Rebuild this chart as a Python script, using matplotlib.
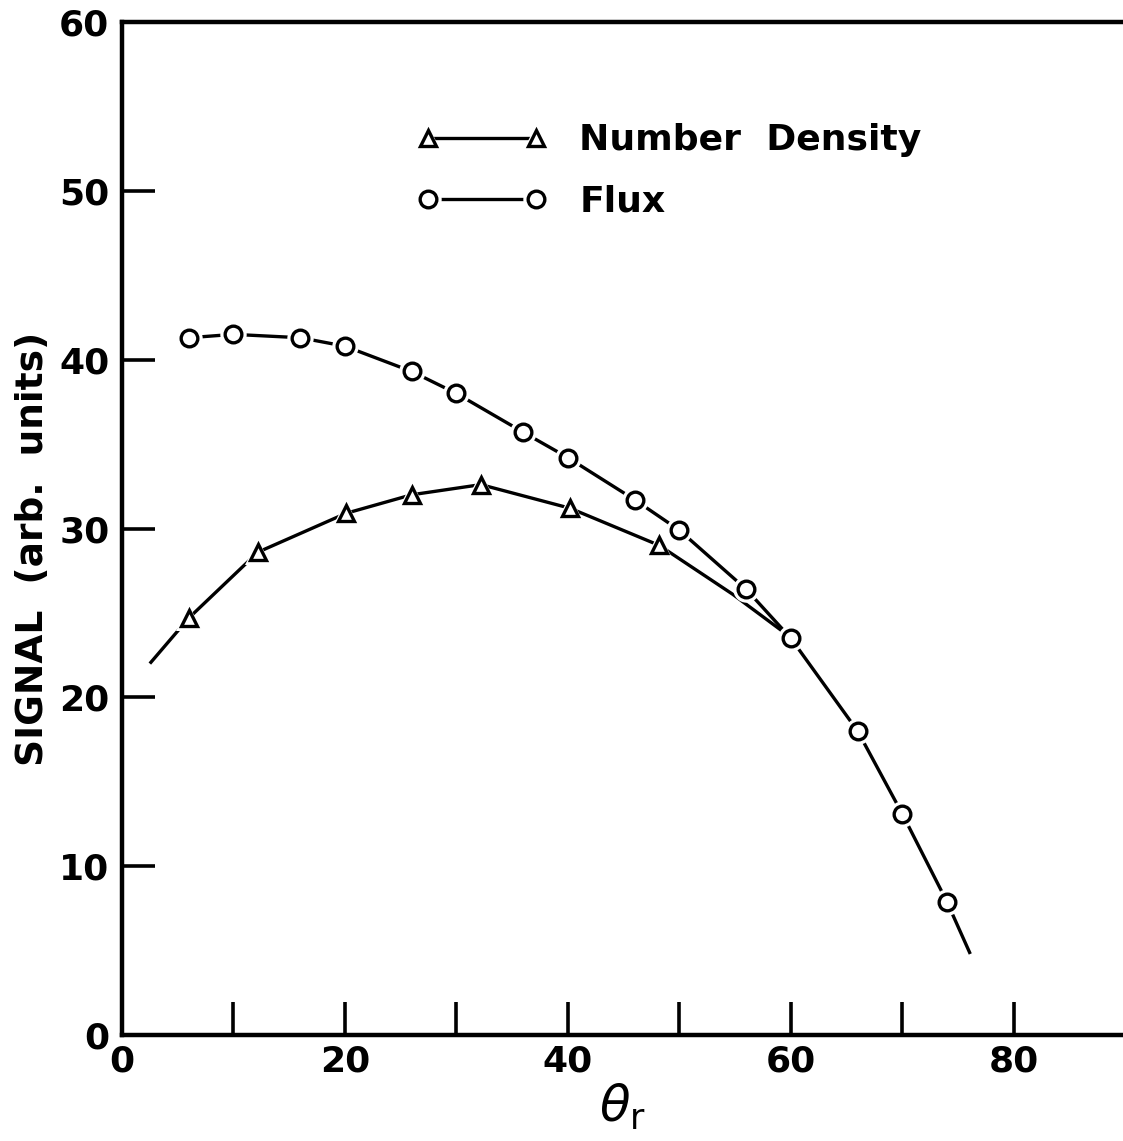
import numpy as np
import matplotlib
matplotlib.use('Agg')
import matplotlib.pyplot as plt
from matplotlib.legend_handler import HandlerTuple

# Flux (circles)
flux_x = [6, 10, 16, 20, 26, 30, 36, 40, 46, 50, 56, 60, 66, 70, 74]
flux_y = [41.3, 41.5, 41.3, 40.8, 39.3, 38.0, 35.7, 34.2, 31.7, 29.9, 26.4, 23.5, 18.0, 13.1, 7.9]
# hand-drawn curve runs a little past the last circle
flux_line_x = flux_x + [76.1]
flux_line_y = flux_y + [4.8]

# Number density (triangles)
nd_x = [6, 12.2, 20.1, 26, 32.2, 40.2, 48.2]
nd_y = [24.7, 28.6, 30.9, 32.0, 32.6, 31.2, 29.0]
# curve: starts before first triangle, joins flux at 60
nd_line_x = [2.5] + nd_x + [54.8, 60.1]
nd_line_y = [22.0] + nd_y + [26.1, 23.5]

x_ticks = [0, 10, 20, 30, 40, 50, 60, 70, 80]
x_ticklabels = ['0', '', '20', '', '40', '', '60', '', '80']
y_ticks = [0, 10, 20, 30, 40, 50, 60]

plt.rcParams['font.family'] = ['DejaVu Sans']

fig = plt.figure(figsize=(11.23, 11.41), dpi=100)
ax = fig.add_axes([0.1086, 0.0929, 0.8914, 0.8878])

lw = 2.4
ms = 12
mew = 2.4


def draw_series(xl, yl, xm, ym, marker):
    line, = ax.plot(xl, yl, color='black', lw=lw, solid_capstyle='butt', zorder=2)
    # white halo gives the little gaps between line and marker
    halo, = ax.plot(xm, ym, linestyle='none', marker=marker, ms=ms + 7,
                    mfc='white', mec='white', mew=0, zorder=3)
    pts, = ax.plot(xm, ym, linestyle='none', marker=marker, ms=ms,
                   mfc='white', mec='black', mew=mew, zorder=4)
    return line, halo, pts


nd_handles = draw_series(nd_line_x, nd_line_y, nd_x, nd_y, '^')
flux_handles = draw_series(flux_line_x, flux_line_y, flux_x, flux_y, 'o')

ax.set_xlim(0, 89.8)
ax.set_ylim(0, 60)
ax.set_xticks(x_ticks)
ax.set_xticklabels(x_ticklabels)
ax.set_yticks(y_ticks)
ax.tick_params(direction='in', length=24, width=2.6, labelsize=26, pad=9)
ax.tick_params(axis='x', pad=7)
for lab in ax.get_xticklabels() + ax.get_yticklabels():
    lab.set_fontweight('bold')

for side in ['left', 'bottom', 'top']:
    ax.spines[side].set_linewidth(3.2)
ax.spines['right'].set_visible(False)

ax.set_ylabel('SIGNAL  (arb.  units)', fontsize=27, fontweight='bold')
ax.yaxis.set_label_coords(-0.071, 0.48)
ax.set_xlabel(r'$\theta_{\mathrm{r}}$', fontsize=36, labelpad=2)

leg = ax.legend([nd_handles, flux_handles], ['Number  Density', 'Flux'],
                handler_map={tuple: HandlerTuple(ndivide=1, pad=0)},
                numpoints=2, handlelength=3.6, handletextpad=0.9,
                loc='upper left', bbox_to_anchor=(0.262, 0.932),
                frameon=False, fontsize=26, labelspacing=0.75)
for t in leg.get_texts():
    t.set_fontweight('bold')

fig.savefig('out.png', dpi=100)
